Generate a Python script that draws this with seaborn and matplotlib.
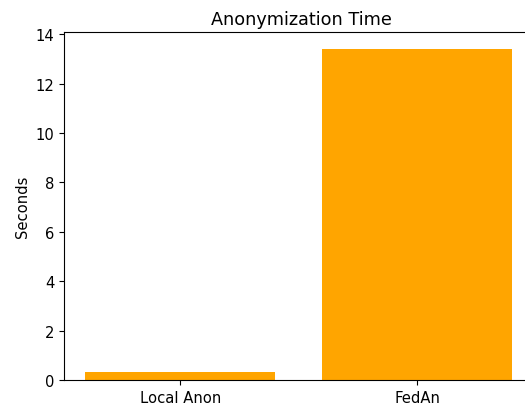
import matplotlib
matplotlib.use("Agg")
import matplotlib.pyplot as plt
import seaborn as sns
import pandas as pd

methods = ["Local Anon", "FedAn"]
seconds = [0.32, 13.41]

df = pd.DataFrame({"Method": methods, "Seconds": seconds})

plt.rcParams["font.size"] = 10.6

fig = plt.figure(figsize=(5.25, 4.06), dpi=100)
ax = fig.add_axes([64/525, 25/406, 474/525, (381-33.3)/406])
sns.barplot(data=df, x="Method", y="Seconds", color="orange", saturation=1,
            width=0.8, ax=ax, errorbar=None)
ax.set_xlim(-0.49, 1.51)
ax.set_title("Anonymization Time", fontsize=12.7)
ax.set_xlabel("")
ax.set_ylabel("Seconds")
fig.savefig("out.png", dpi=100)
